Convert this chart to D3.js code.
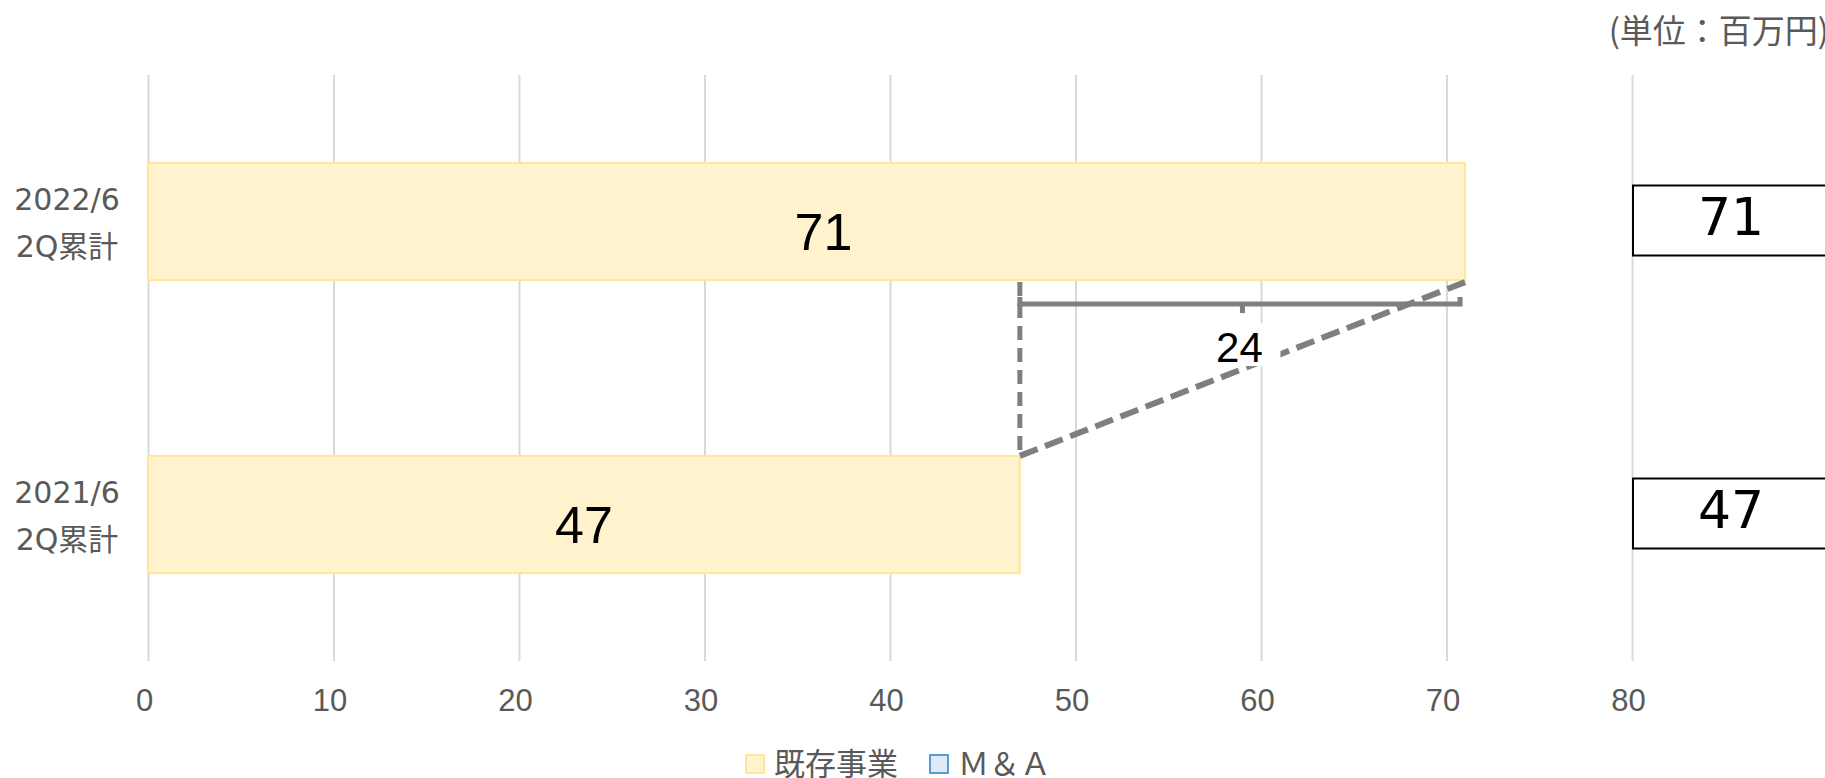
<!DOCTYPE html>
<html>
<head>
<meta charset="utf-8">
<script src="https://cdn.jsdelivr.net/npm/d3@7"></script>
<style>
  body { margin: 0; background: #fff; }
  svg { display: block; }
</style>
</head>
<body>
<svg width="1825" height="778"></svg>
<script>
// data
var catLine1 = ["2022/6", "2021/6"];
var catLine2 = ["2Q累計", "2Q累計"];
var existing = [71, 47];
var mAndA = [0, 0];
var totals = [71, 47];
var xTicks = [0, 10, 20, 30, 40, 50, 60, 70, 80];
var seriesNames = ["既存事業", "Ｍ＆Ａ"];
var unitLabel = "(単位：百万円)";

var seriesFill = ["#FFF2CC", "#DEEBF7"];
var seriesStroke = ["#FFE699", "#5B9BD5"];
var labelNudge = [17, 0];

var svg = d3.select("svg");

var x = d3.scaleLinear().domain([0, 80]).range([148, 1632]);
var y = d3.scaleBand().domain(catLine1).range([75, 661]).paddingInner(0.6).paddingOuter(0.3);
var bw = y.bandwidth();

// gridlines + tick labels
var axis = svg.append("g")
    .attr("transform", "translate(0," + 661 + ")")
    .call(d3.axisBottom(x).tickValues(xTicks).tickSize(-(661 - 75)).tickPadding(28));
axis.select(".domain").remove();
axis.selectAll(".tick line").attr("stroke", "#D9D9D9").attr("stroke-width", 2);
axis.selectAll(".tick text")
    .attr("fill", "#595959")
    .attr("font-family", "'Liberation Sans', Arial, sans-serif")
    .attr("font-size", "31px")
    .attr("dx", -4);

// category labels (two lines, centered)
var cats = svg.append("g");
cats.selectAll("text.l1").data(catLine1).enter().append("text")
    .attr("x", 67)
    .attr("y", function(d){ return y(d) + bw / 2 - 12; })
    .attr("text-anchor", "middle")
    .attr("font-family", "'DejaVu Sans', 'Noto Sans CJK JP', sans-serif")
    .attr("font-size", "30px")
    .attr("fill", "#595959")
    .text(function(d){ return d; });
cats.selectAll("text.l2").data(catLine2).enter().append("text")
    .attr("x", 67)
    .attr("y", function(d, i){ return y(catLine1[i]) + bw / 2 + 35; })
    .attr("text-anchor", "middle")
    .attr("font-family", "'DejaVu Sans', 'Noto Sans CJK JP', sans-serif")
    .attr("font-size", "30px")
    .attr("fill", "#595959")
    .text(function(d){ return d; });

// bars: existing business
svg.append("g").selectAll("rect").data(existing).enter().append("rect")
    .attr("x", x(0))
    .attr("y", function(d, i){ return y(catLine1[i]); })
    .attr("width", function(d){ return x(d) - x(0); })
    .attr("height", bw)
    .attr("fill", seriesFill[0])
    .attr("stroke", seriesStroke[0])
    .attr("stroke-width", 2);

// bars: M&A (stacked, zero here)
svg.append("g").selectAll("rect").data(mAndA.filter(function(d){ return d > 0; })).enter().append("rect")
    .attr("x", function(d, i){ return x(existing[i]); })
    .attr("y", function(d, i){ return y(catLine1[i]); })
    .attr("width", function(d){ return x(d) - x(0); })
    .attr("height", bw)
    .attr("fill", seriesFill[1])
    .attr("stroke", seriesStroke[1])
    .attr("stroke-width", 2);

// bar value labels
svg.append("g").selectAll("text").data(existing).enter().append("text")
    .attr("x", function(d, i){ return x(d / 2) + labelNudge[i]; })
    .attr("y", function(d, i){ return y(catLine1[i]) + bw / 2 + 28.5; })
    .attr("text-anchor", "middle")
    .attr("font-family", "'Liberation Sans', Arial, sans-serif")
    .attr("font-size", "52px")
    .attr("fill", "#000")
    .text(function(d){ return d; });

// total boxes on the right
var tot = svg.append("g");
tot.selectAll("rect").data(totals).enter().append("rect")
    .attr("x", x(80) + 1)
    .attr("y", function(d, i){ return y(catLine1[i]) + bw / 2 - 36; })
    .attr("width", 196)
    .attr("height", 70)
    .attr("fill", "#fff")
    .attr("stroke", "#000")
    .attr("stroke-width", 2);
tot.selectAll("text").data(totals).enter().append("text")
    .attr("x", x(80) + 99)
    .attr("y", function(d, i){ return y(catLine1[i]) + bw / 2 + 13; })
    .attr("text-anchor", "middle")
    .attr("font-family", "'DejaVu Sans', sans-serif")
    .attr("font-size", "52px")
    .attr("fill", "#000")
    .text(function(d){ return d; });

// difference annotation
var lo = totals[1], hi = totals[0];
var diff = hi - lo;
var topBottom = y(catLine1[0]) + bw;
var lowTop = y(catLine1[1]);
var ann = svg.append("g")
    .attr("stroke", "#7F7F7F")
    .attr("stroke-width", 5)
    .attr("fill", "none");
ann.append("line")
    .attr("x1", x(lo)).attr("y1", topBottom + 2)
    .attr("x2", x(lo)).attr("y2", lowTop)
    .attr("stroke-dasharray", "14,8");
ann.append("line")
    .attr("x1", x(lo)).attr("y1", lowTop)
    .attr("x2", x(hi)).attr("y2", topBottom + 2)
    .attr("stroke-width", 6)
    .attr("stroke-dasharray", "19,8");
var by = topBottom + 24;
ann.append("path")
    .attr("d", "M" + x(lo) + "," + (by - 7) + "V" + by + "H" + (x(hi) - 5) + "V" + (by - 7));
ann.append("path")
    .attr("d", "M" + x((lo + hi) / 2) + "," + by + "V" + (by + 9));

svg.append("rect")
    .attr("x", x((lo + hi) / 2) - 40)
    .attr("y", topBottom + 43)
    .attr("width", 78)
    .attr("height", 43)
    .attr("fill", "#fff");
svg.append("text")
    .attr("x", x((lo + hi) / 2) - 3)
    .attr("y", topBottom + 82)
    .attr("text-anchor", "middle")
    .attr("font-family", "'Liberation Sans', Arial, sans-serif")
    .attr("font-size", "42px")
    .attr("fill", "#000")
    .text(diff);

// unit label
svg.append("text")
    .attr("x", 1829)
    .attr("y", 43)
    .attr("text-anchor", "end")
    .attr("font-family", "'Noto Sans CJK JP', sans-serif")
    .attr("font-size", "33px")
    .attr("fill", "#595959")
    .text(unitLabel);

// legend
var legend = svg.append("g");
var lx = 746;
seriesNames.forEach(function(name, i){
    legend.append("rect")
        .attr("x", lx)
        .attr("y", 755)
        .attr("width", 18)
        .attr("height", 18)
        .attr("fill", seriesFill[i])
        .attr("stroke", seriesStroke[i])
        .attr("stroke-width", 2);
    var t = legend.append("text")
        .attr("x", lx + 28)
        .attr("y", 775)
        .attr("font-family", "'Noto Sans CJK JP', sans-serif")
        .attr("font-size", "31px")
        .attr("fill", "#595959")
        .text(name);
    lx = lx + 28 + t.node().getComputedTextLength() + 32;
});
</script>
</body>
</html>
